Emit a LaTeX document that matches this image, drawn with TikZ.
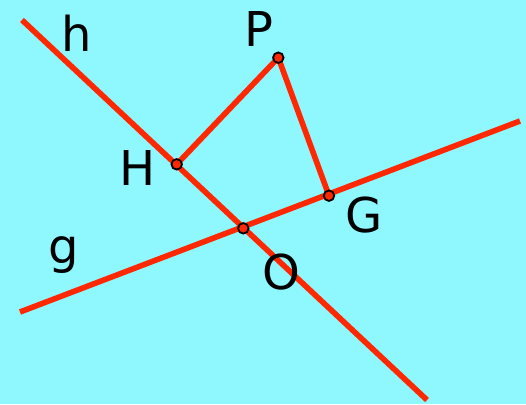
\documentclass[tikz,border=0pt]{standalone}
\usepackage{fontspec}
\setmainfont{DejaVu Sans}
\usetikzlibrary{backgrounds}
\usepackage{xcolor}
\definecolor{skycyan}{RGB}{143,248,255}
\definecolor{linered}{RGB}{255,40,0}

\begin{document}
\begin{tikzpicture}[
    x=1pt, y=-1pt,
    redline/.style={draw=linered, line width=5.6pt},
    pointdot/.style={circle, draw=black, fill=linered, line width=1.8pt,
                 minimum size=10.5pt, inner sep=0pt},
    lbl/.style={anchor=base, inner sep=0pt, font=\fontsize{48}{58}\selectfont}
]
\useasboundingbox (0,0) rectangle (526,404);
% line ends
\coordinate (h1) at (22,20);
\coordinate (h2) at (427,400);
\coordinate (g1) at (20,312);
\coordinate (g2) at (520,121);
% points
\node[pointdot] (O) at (243.3,228.3) {};
\node[pointdot] (H) at (176.7,164.3) {};
\node[pointdot] (P) at (278.3,57.7) {};
\node[pointdot] (G) at (329,195.7) {};
\begin{scope}[on background layer]
\fill[skycyan] (0,0) rectangle (526,404);
\draw[redline] (h1) -- (h2);
\draw[redline] (g1) -- (g2);
\draw[redline] (H.center) -- (P.center) -- (G.center);
\end{scope}
% labels
\node[lbl] (lh) at (77,52) {h};
\node[lbl] (lP) at (259,46) {P};
\node[lbl] (lH) at (138,185) {H};
\node[lbl] (lG) at (364,232) {G};
\node[lbl] (lO) at (281,289) {O};
\node[lbl] (lg) at (64,263) {g};
\end{tikzpicture}
\end{document}
